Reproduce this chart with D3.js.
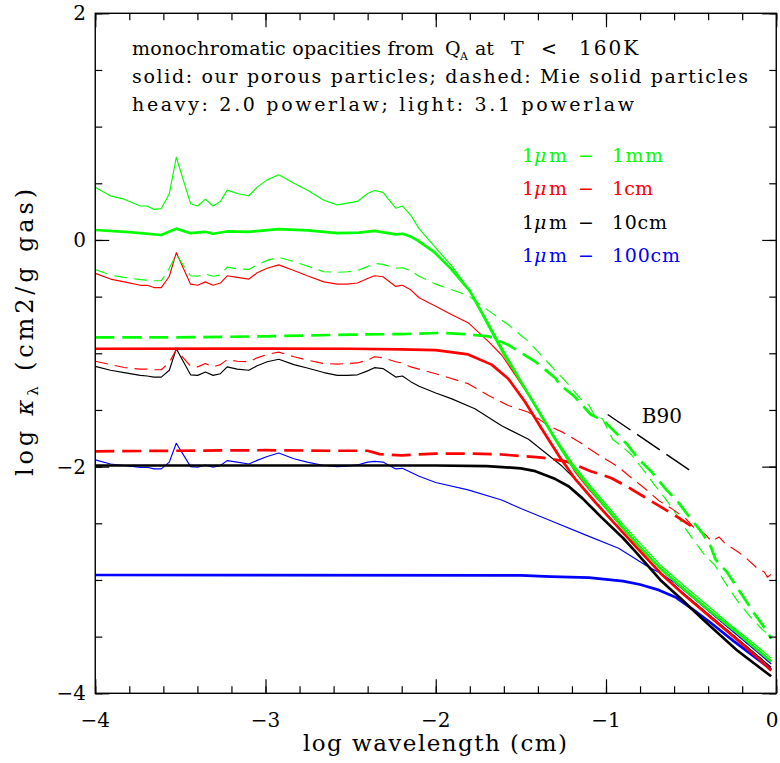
<!DOCTYPE html>
<html>
<head>
<meta charset="utf-8">
<script src="https://cdn.jsdelivr.net/npm/d3@7"></script>
<style>
  body { margin: 0; background: #fff; }
</style>
</head>
<body>
<svg id="chart" width="780" height="763" font-family="'DejaVu Serif', serif"></svg>
<script>
// wavelength grid of the feature band (log cm)
const lamBand = [-4.0, -3.91, -3.83, -3.735, -3.695, -3.655, -3.612, -3.565, -3.524, -3.44, -3.398,
  -3.353, -3.308, -3.265, -3.225, -3.166, -3.098, -3.049, -2.99, -2.922, -2.833, -2.755, -2.657,
  -2.578, -2.52, -2.46, -2.40, -2.36, -2.31, -2.235, -2.196, -2.147, -2.098];

// porous particles, 3.1 powerlaw (light solid)
const greenLightBand = [0.466, 0.389, 0.36, 0.30, 0.30, 0.27, 0.277, 0.407, 0.73, 0.32, 0.30, 0.36, 0.30,
  0.34, 0.44, 0.41, 0.39, 0.466, 0.53, 0.575, 0.50, 0.44, 0.35, 0.31, 0.325, 0.34, 0.41, 0.436, 0.42,
  0.28, 0.30, 0.22, 0.10];
const greenLightTail = [[-2.0, -0.07], [-1.9, -0.24], [-1.8, -0.45], [-1.7, -0.74], [-1.6, -1.02],
  [-1.5, -1.255], [-1.4, -1.49], [-1.3, -1.74], [-1.2, -1.965], [-1.1, -2.155], [-1.0, -2.33],
  [-0.9, -2.51], [-0.8, -2.675], [-0.68, -2.87], [-0.55, -3.04], [-0.4, -3.23], [-0.25, -3.42],
  [-0.1, -3.6], [-0.03, -3.69]];

const redLightBand = [-0.295, -0.345, -0.37, -0.40, -0.40, -0.42, -0.42, -0.32, -0.112, -0.39, -0.40,
  -0.37, -0.40, -0.38, -0.316, -0.33, -0.345, -0.29, -0.25, -0.22, -0.27, -0.316, -0.37, -0.39, -0.39,
  -0.38, -0.34, -0.316, -0.325, -0.41, -0.40, -0.44, -0.51];
const redLightTail = [[-2.0, -0.585], [-1.9, -0.665], [-1.81, -0.73], [-1.69, -0.897], [-1.613, -1.015],
  [-1.534, -1.19], [-1.415, -1.46], [-1.297, -1.76], [-1.178, -2.056], [-1.1, -2.2], [-1.0, -2.37],
  [-0.9, -2.55], [-0.8, -2.72], [-0.68, -2.9], [-0.55, -3.08], [-0.4, -3.27], [-0.25, -3.46],
  [-0.1, -3.65], [-0.03, -3.74]];

const blackLightBand = [-1.115, -1.15, -1.17, -1.195, -1.20, -1.21, -1.21, -1.15, -0.96, -1.19, -1.195,
  -1.165, -1.195, -1.18, -1.12, -1.14, -1.15, -1.11, -1.075, -1.053, -1.10, -1.13, -1.17, -1.195,
  -1.195, -1.19, -1.155, -1.127, -1.135, -1.21, -1.20, -1.25, -1.29];
const blackLightTail = [[-2.0, -1.35], [-1.909, -1.40], [-1.77, -1.49], [-1.613, -1.64], [-1.455, -1.758],
  [-1.356, -1.878], [-1.257, -1.997], [-1.158, -2.145], [-1.05, -2.33], [-0.95, -2.5], [-0.8, -2.75],
  [-0.68, -2.94], [-0.55, -3.11], [-0.4, -3.3], [-0.25, -3.49], [-0.1, -3.68], [-0.03, -3.77]];

const blueLightBand = [-1.94, -1.977, -1.99, -2.006, -2.006, -2.02, -2.02, -1.96, -1.794, -2.0, -2.005,
  -1.985, -2.005, -1.99, -1.947, -1.96, -1.977, -1.945, -1.91, -1.88, -1.93, -1.96, -1.99, -2.0,
  -1.995, -1.985, -1.96, -1.953, -1.96, -2.02, -2.015, -2.05, -2.085];
const blueLightTail = [[-2.0, -2.14], [-1.81, -2.205], [-1.613, -2.294], [-1.5, -2.37], [-1.324, -2.477],
  [-1.125, -2.60], [-0.926, -2.72], [-0.767, -2.87], [-0.681, -2.94], [-0.6, -3.02], [-0.5, -3.14],
  [-0.4, -3.27], [-0.25, -3.46], [-0.1, -3.65], [-0.03, -3.74]];

// porous particles, 2.0 powerlaw (heavy solid)
const greenHeavy = [[-4, 0.088], [-3.8, 0.07], [-3.612, 0.044], [-3.524, 0.1], [-3.44, 0.06], [-3.353, 0.072],
  [-3.308, 0.055], [-3.225, 0.075], [-3.1, 0.072], [-2.922, 0.095], [-2.75, 0.085], [-2.578, 0.06],
  [-2.45, 0.065], [-2.36, 0.08], [-2.235, 0.05], [-2.196, 0.055], [-2.147, 0.03], [-2.107, -0.004],
  [-2.008, -0.108], [-1.909, -0.257], [-1.8, -0.45], [-1.7, -0.72], [-1.6, -0.995], [-1.5, -1.25],
  [-1.4, -1.5], [-1.3, -1.755], [-1.2, -1.99], [-1.1, -2.18], [-1.0, -2.36], [-0.9, -2.54],
  [-0.8, -2.71], [-0.68, -2.9], [-0.55, -3.07], [-0.4, -3.26], [-0.25, -3.44], [-0.1, -3.63], [-0.03, -3.72]];
const redHeavy = [[-4, -0.96], [-3.0, -0.958], [-2.5, -0.96], [-2.206, -0.965], [-2.0, -0.972], [-1.81, -1.01],
  [-1.672, -1.10], [-1.574, -1.224], [-1.475, -1.43], [-1.376, -1.67], [-1.276, -1.907], [-1.178, -2.115],
  [-1.06, -2.32], [-0.95, -2.5], [-0.8, -2.745], [-0.68, -2.94], [-0.55, -3.12], [-0.4, -3.31],
  [-0.25, -3.5], [-0.1, -3.7], [-0.03, -3.8]];
const blackHeavy = [[-4, -1.99], [-2.5, -1.99], [-2.0, -1.99], [-1.7, -1.995], [-1.5, -2.015], [-1.415, -2.04],
  [-1.297, -2.11], [-1.218, -2.175], [-1.138, -2.28], [-1.025, -2.45], [-0.9, -2.63], [-0.827, -2.75],
  [-0.681, -3.0], [-0.55, -3.18], [-0.43, -3.35], [-0.231, -3.62], [-0.03, -3.85]];
const blueHeavy = [[-4, -2.956], [-1.5, -2.96], [-1.324, -2.97], [-1.1, -2.98], [-0.9, -3.01], [-0.8, -3.04],
  [-0.688, -3.09], [-0.588, -3.155], [-0.49, -3.26], [-0.4, -3.36], [-0.25, -3.54], [-0.1, -3.71], [-0.03, -3.79]];

// Mie solid particles (dashed)
const greenMieLightBand = [-0.26, -0.31, -0.33, -0.35, -0.355, -0.36, -0.36, -0.25, -0.13, -0.316, -0.32,
  -0.30, -0.32, -0.31, -0.24, -0.255, -0.26, -0.22, -0.18, -0.153, -0.19, -0.23, -0.28, -0.285, -0.28,
  -0.27, -0.235, -0.206, -0.215, -0.25, -0.245, -0.27, -0.32];
const greenMieLightTail = [[-2.0, -0.39], [-1.81, -0.49], [-1.712, -0.6], [-1.574, -0.748], [-1.455, -0.897],
  [-1.336, -1.09], [-1.218, -1.28], [-1.15, -1.40], [-1.099, -1.46], [-1.07, -1.54], [-1.02, -1.58],
  [-0.96, -1.76], [-0.9, -1.83], [-0.85, -1.897], [-0.772, -2.046], [-0.713, -2.165], [-0.65, -2.285],
  [-0.594, -2.405], [-0.53, -2.554], [-0.475, -2.67], [-0.415, -2.79], [-0.36, -2.87], [-0.31, -3.0],
  [-0.23, -3.18], [-0.15, -3.33], [-0.08, -3.44], [-0.03, -3.50]];
const greenMieHeavy = [[-4, -0.86], [-3.524, -0.86], [-3.0, -0.85], [-2.5, -0.835], [-2.2, -0.83], [-1.97, -0.82],
  [-1.83, -0.83], [-1.69, -0.85], [-1.573, -0.926], [-1.415, -1.074], [-1.296, -1.22], [-1.268, -1.283],
  [-1.19, -1.373], [-1.09, -1.54], [-1.01, -1.6], [-0.93, -1.72], [-0.872, -1.81], [-0.81, -1.93],
  [-0.73, -2.05], [-0.65, -2.196], [-0.575, -2.315], [-0.515, -2.435], [-0.435, -2.584], [-0.386, -2.70],
  [-0.356, -2.82], [-0.29, -2.93], [-0.21, -3.11], [-0.132, -3.29], [-0.052, -3.455], [-0.03, -3.52]];

const redMieLightBand = [-1.07, -1.10, -1.125, -1.14, -1.14, -1.145, -1.145, -1.08, -0.97, -1.115, -1.12,
  -1.09, -1.12, -1.10, -1.056, -1.07, -1.075, -1.04, -1.01, -0.99, -1.03, -1.06, -1.09, -1.095, -1.09,
  -1.085, -1.06, -1.03, -1.04, -1.075, -1.085, -1.12, -1.14];
const redMieLightTail = [[-2.0, -1.18], [-1.81, -1.268], [-1.69, -1.372], [-1.574, -1.46], [-1.455, -1.52],
  [-1.336, -1.64], [-1.25, -1.70], [-1.15, -1.79], [-1.03, -1.91], [-0.93, -2.0], [-0.85, -2.1],
  [-0.77, -2.195], [-0.69, -2.30], [-0.61, -2.375], [-0.53, -2.46], [-0.475, -2.554], [-0.415, -2.60],
  [-0.38, -2.66], [-0.336, -2.62], [-0.3, -2.68], [-0.277, -2.70], [-0.217, -2.76], [-0.167, -2.82],
  [-0.11, -2.90], [-0.07, -2.93], [-0.052, -2.976], [-0.03, -2.95]];
const redMieHeavy = [[-4, -1.865], [-3.524, -1.86], [-3.0, -1.855], [-2.6, -1.86], [-2.4, -1.86], [-2.33, -1.89],
  [-2.2, -1.9], [-2.0, -1.885], [-1.8, -1.885], [-1.613, -1.893], [-1.376, -1.92], [-1.229, -1.956],
  [-1.09, -2.04], [-0.97, -2.1], [-0.872, -2.18], [-0.772, -2.27], [-0.673, -2.36], [-0.575, -2.45],
  [-0.475, -2.55]];

const b90 = [[-0.99, -1.54], [-0.51, -2.03]];

const xMajor = [-4, -3, -2, -1, 0];
const xLabels = ["\u22124", "\u22123", "\u22122", "\u22121", "0"];
const yMajor = [-4, -2, 0, 2];
const yLabels = ["\u22124", "\u22122", "0", "2"];

const legendSizes = ["1mm", "1cm", "10cm", "100cm"];
const legendColors = ["#00ff00", "#ff0000", "#000000", "#0000ff"];

const band = (vals, tail) => lamBand.map((l, i) => [l, vals[i]]).concat(tail);

const svg = d3.select("#chart");
const x = d3.scaleLinear().domain([-4, 0]).range([95.25, 776.25]);
const y = d3.scaleLinear().domain([-4, 2]).range([693.3, 13.3]);

svg.append("defs").append("clipPath").attr("id", "clip")
  .append("rect").attr("x", x(-4)).attr("y", y(2))
  .attr("width", x(0) - x(-4)).attr("height", y(-4) - y(2));

const HEAVY = 2.7, LIGHT = 1.15;
const series = [
  { d: band(greenLightBand, greenLightTail), c: "#00ff00", w: LIGHT, dash: null },
  { d: band(redLightBand, redLightTail), c: "#ff0000", w: LIGHT, dash: null },
  { d: band(blackLightBand, blackLightTail), c: "#000000", w: LIGHT, dash: null },
  { d: band(blueLightBand, blueLightTail), c: "#0000ff", w: LIGHT, dash: null },
  { d: band(greenMieLightBand, greenMieLightTail), c: "#00ff00", w: LIGHT, dash: "13,7" },
  { d: band(redMieLightBand, redMieLightTail), c: "#ff0000", w: LIGHT, dash: "13,7" },
  { d: greenMieHeavy, c: "#00ff00", w: HEAVY, dash: "19,8" },
  { d: redMieHeavy, c: "#ff0000", w: HEAVY, dash: "19,8" },
  { d: blueHeavy, c: "#0000ff", w: HEAVY, dash: null },
  { d: blackHeavy, c: "#000000", w: HEAVY, dash: null },
  { d: redHeavy, c: "#ff0000", w: HEAVY, dash: null },
  { d: greenHeavy, c: "#00ff00", w: HEAVY, dash: null }
];

const line = d3.line().x(d => x(d[0])).y(d => y(d[1]));
const plot = svg.append("g").attr("clip-path", "url(#clip)");
plot.selectAll("path.s").data(series).enter().append("path")
  .attr("class", "s")
  .attr("d", s => line(s.d))
  .attr("fill", "none")
  .attr("stroke", s => s.c)
  .attr("stroke-width", s => s.w)
  .attr("stroke-dasharray", s => s.dash)
  .attr("stroke-linejoin", "round");

// B90 reference slope
plot.append("path").attr("d", line(b90))
  .attr("fill", "none").attr("stroke", "#000").attr("stroke-width", 1.4)
  .attr("stroke-dasharray", "27.5,8");
svg.append("text").attr("x", x(-0.79)).attr("y", y(-1.616)).attr("font-size", 20)
  .text("B90");

// axes: ticks inward on all four sides
function ticks(axis, transform) {
  svg.append("g").attr("transform", transform).call(axis)
    .call(g => g.select(".domain").remove())
    .call(g => g.selectAll("line").attr("stroke", "#000").attr("stroke-width", 1.2));
}
const xMinor = d3.range(-4, 0.001, 0.2).map(v => +v.toFixed(1));
const yMinor = d3.range(-4, 2.001, 0.5);
ticks(d3.axisBottom(x).tickValues(xMinor).tickSize(-7).tickFormat(""), `translate(0,${y(-4)})`);
ticks(d3.axisBottom(x).tickValues(xMajor).tickSize(-14).tickFormat(""), `translate(0,${y(-4)})`);
ticks(d3.axisTop(x).tickValues(xMinor).tickSize(-7).tickFormat(""), `translate(0,${y(2)})`);
ticks(d3.axisTop(x).tickValues(xMajor).tickSize(-14).tickFormat(""), `translate(0,${y(2)})`);
ticks(d3.axisLeft(y).tickValues(yMinor).tickSize(-7).tickFormat(""), `translate(${x(-4)},0)`);
ticks(d3.axisLeft(y).tickValues(yMajor).tickSize(-14).tickFormat(""), `translate(${x(-4)},0)`);
ticks(d3.axisRight(y).tickValues(yMinor).tickSize(-7).tickFormat(""), `translate(${x(0)},0)`);
ticks(d3.axisRight(y).tickValues(yMajor).tickSize(-14).tickFormat(""), `translate(${x(0)},0)`);

svg.append("rect").attr("x", x(-4)).attr("y", y(2))
  .attr("width", x(0) - x(-4)).attr("height", y(-4) - y(2))
  .attr("fill", "none").attr("stroke", "#000").attr("stroke-width", 1.4);

// tick labels (the last one is nudged in so it stays on the page)
svg.selectAll("text.xl").data(xMajor).enter().append("text")
  .attr("class", "xl").attr("x", d => Math.min(x(d), 772)).attr("y", 727)
  .attr("text-anchor", "middle").attr("font-size", 20)
  .text((d, i) => xLabels[i]);
svg.selectAll("text.yl").data(yMajor).enter().append("text")
  .attr("class", "yl").attr("x", 86).attr("y", d => y(d) + 7)
  .attr("text-anchor", "end").attr("font-size", 20)
  .text((d, i) => yLabels[i]);

// axis titles
svg.append("text").attr("x", 303).attr("y", 751).attr("font-size", 23)
  .attr("textLength", 264).attr("lengthAdjust", "spacing").text("log wavelength (cm)");

const yt = svg.append("text").attr("transform", "translate(33,476) rotate(-90)").attr("font-size", 24);
yt.append("tspan").text("log ");
yt.append("tspan").attr("font-style", "italic").text("\u03ba");
yt.append("tspan").attr("font-size", 15).attr("dy", 5).text("\u03bb");
yt.append("tspan").attr("dy", -5).text(" (cm2/g gas)");
const ytW = yt.node().getComputedTextLength();
yt.attr("letter-spacing", Math.max(0, (287 - ytW) / 17));

// header text
function txt(s, x0, yb, size, len) {
  const t = svg.append("text").attr("x", x0).attr("y", yb).attr("font-size", size).text(s);
  if (len) t.attr("textLength", len).attr("lengthAdjust", "spacing");
  return t;
}
txt("monochromatic opacities from", 132, 55, 19, 302);
txt("Q", 445, 55, 19);
txt("A", 460, 60, 11);
txt("at", 475, 55, 19);
txt("T", 511, 55, 19);
txt("<", 541, 55, 19);
txt("160K", 579, 55, 20).attr("letter-spacing", 2);
txt("solid: our porous particles; dashed: Mie solid particles", 132, 83, 19, 616);
txt("heavy: 2.0 powerlaw; light: 3.1 powerlaw", 132, 111, 19, 502);

// legend
const legY = [162, 195, 229, 262];
const legW = [51, 41, 55, 68];
legendSizes.forEach((s, i) => {
  const g = svg.append("g");
  const part = (str, x0, len, italic) => {
    const t = g.append("text").attr("x", x0).attr("y", legY[i]).attr("font-size", 19)
      .attr("fill", legendColors[i]).text(str);
    if (len) t.attr("textLength", len).attr("lengthAdjust", "spacing");
    if (italic) t.attr("font-style", "italic");
  };
  part("1", 522);
  part("\u03bc", 534, null, true);
  part("m", 549);
  part("\u2212", 578);
  part(s, 612, legW[i]);
});
</script>
</body>
</html>
